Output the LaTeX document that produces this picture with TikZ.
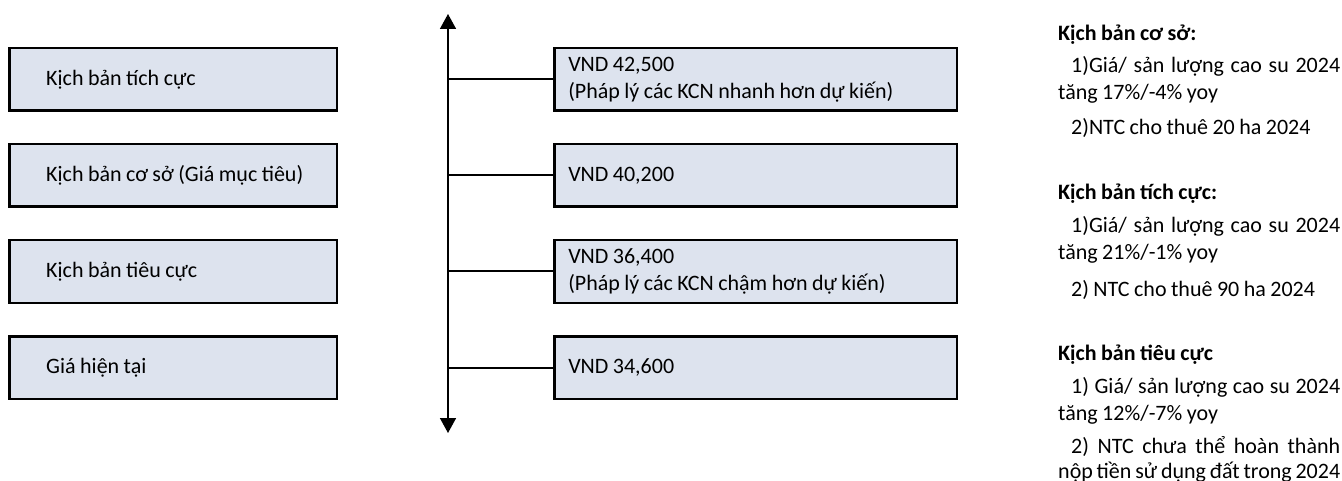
\documentclass[tikz,border=0pt]{standalone}
\usepackage{fontspec}
\setmainfont[WordSpace=0.9]{Carlito}
\usetikzlibrary{positioning,arrows.meta}
\definecolor{boxfill}{RGB}{221,227,238}
\newcommand{\fullline}[1]{\makebox[282pt][s]{#1}}

\begin{document}
\begin{tikzpicture}[
        x=1pt, y=-1pt,
        every node/.style={font=\fontsize{22}{27}\selectfont},
        shaded/.style={rectangle, draw, line width=2.5pt, fill=boxfill, minimum height=62.5pt, inner ysep=0pt, align=left, execute at begin node={\spaceskip=0pt\relax}},
        casebox/.style={shaded, text width=300pt, inner xsep=13.75pt, execute at begin node={\hspace*{23.25pt}}},
        valbox/.style={shaded, text width=374.5pt, inner xsep=14pt},
        link/.style={line width=2pt},
        axis/.style={line width=1.6pt, {Triangle[length=15pt,width=16pt]}-{Triangle[length=15pt,width=16pt]}},
        noteline/.style={anchor=base west, inner sep=0pt},
        notehead/.style={noteline, font=\fontsize{22}{27}\selectfont\bfseries}
    ]
    \useasboundingbox (0,0) rectangle (1342,481);

    % Left side (scenarios)
    \node[casebox] (posbox) at (173,79.5) {Kịch bản tích cực};
    \node[casebox] (basebox) at (173,175.5) {Kịch bản cơ sở (Giá mục tiêu)};
    \node[casebox] (negbox) at (173,271.5) {Kịch bản tiêu cực};
    \node[casebox] (curbox) at (173,367.5) {Giá hiện tại};

    % Middle (price values)
    \node[valbox] (posval) at (755.5,79.5) {VND 42,500 \\ (Pháp lý các KCN nhanh hơn dự kiến)};
    \node[valbox] (baseval) at (755.5,175.5) {VND 40,200};
    \node[valbox] (negval) at (755.5,271.5) {VND 36,400 \\ (Pháp lý các KCN chậm hơn dự kiến)};
    \node[valbox] (curval) at (755.5,367.5) {VND 34,600};

    % Price axis
    \coordinate (axtop) at (448,14);
    \coordinate (axbot) at (448,433);
    \draw[axis] (axtop) -- (axbot);

    \draw[link] (posval.west) -- (posval.west -| axtop);
    \draw[link] (baseval.west) -- (baseval.west -| axtop);
    \draw[link] (negval.west) -- (negval.west -| axtop);
    \draw[link] (curval.west) -- (curval.west -| axtop);

    % Right side (assumptions)
    \node[notehead] (basehead) at (1058,41) {Kịch bản cơ sở:};
    \node[noteline] (base1a) at (1058,73) {\fullline{\hspace*{13pt}1)Giá/ sản lượng cao su 2024}};
    \node[noteline] (base1b) at (1058,100) {tăng 17\%/-4\% yoy};
    \node[noteline] (base2) at (1058,135) {\hspace*{13pt}2)NTC cho thuê 20 ha 2024};

    \node[notehead] (poshead) at (1058,200) {Kịch bản tích cực:};
    \node[noteline] (pos1a) at (1058,233) {\fullline{\hspace*{13pt}1)Giá/ sản lượng cao su 2024}};
    \node[noteline] (pos1b) at (1058,260) {tăng 21\%/-1\% yoy};
    \node[noteline] (pos2) at (1058,297) {\hspace*{13pt}2) NTC cho thuê 90 ha 2024};

    \node[notehead] (neghead) at (1058,360) {Kịch bản tiêu cực};
    \node[noteline] (neg1a) at (1058,393) {\fullline{\hspace*{13pt}1) Giá/ sản lượng cao su 2024}};
    \node[noteline] (neg1b) at (1058,420) {tăng 12\%/-7\% yoy};
    \node[noteline] (neg2a) at (1058,453) {\fullline{\hspace*{13pt}2) NTC chưa thể hoàn thành}};
    \node[noteline] (neg2b) at (1058,478) {\fullline{nộp tiền sử dụng đất trong 2024}};

\end{tikzpicture}
\end{document}
